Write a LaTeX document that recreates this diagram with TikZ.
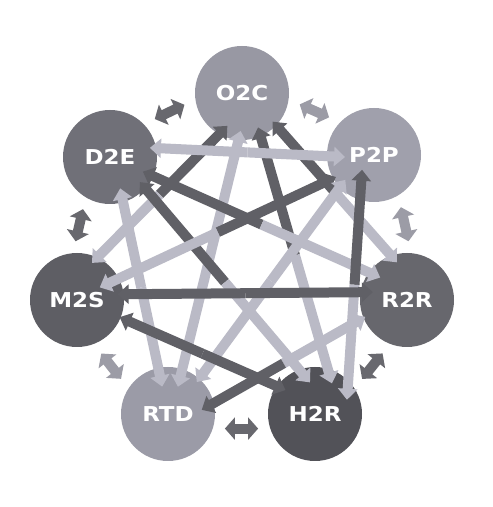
\documentclass[tikz,border=0pt]{standalone}
\usepackage{fontspec}
\newfontfamily\lblfont{DejaVu Sans}[FakeStretch=1.12]
\usetikzlibrary{arrows.meta,calc}

\definecolor{bandlt}{RGB}{186,186,198}
\definecolor{banddk}{RGB}{96,96,102}
\definecolor{twinlt}{RGB}{156,156,166}
\definecolor{twindk}{RGB}{104,104,110}

\tikzset{
  proc/.style={circle,minimum size=94pt,inner sep=0pt,text=white,
    font=\lblfont\bfseries\fontsize{20.5pt}{22pt}\selectfont},
  band/.style={line width=10pt,-{Triangle[width=19pt,length=11pt]}},
  twin/.style={line width=10pt,
    {Triangle[width=22pt,length=10pt]}-{Triangle[width=22pt,length=10pt]},
    shorten <=12pt,shorten >=12pt},
}

% chord: two halves, each coloured after the far node
\newcommand\chord[8]{%
  \path ($(#1)+(#2:#3)$) coordinate (ca) ($(#4)+(#5:#6)$) coordinate (cb);
  \draw[band,#7] ($(ca)!.5!(cb)$) -- (ca);
  \draw[band,#8] ($(ca)!.5!(cb)$) -- (cb);
}

\begin{document}
\begin{tikzpicture}[x=1pt,y=1pt]
    \useasboundingbox (0,0) rectangle (493,507);
    \fill[white] (0,0) rectangle (493,507);

    \node[proc,fill={rgb,255:red,152;green,152;blue,163}] (o2c) at (242,414) {O2C};
    \node[proc,fill={rgb,255:red,112;green,112;blue,120}] (d2e) at (110,350) {D2E};
    \node[proc,fill={rgb,255:red,160;green,160;blue,172}] (p2p) at (374,352) {P2P};
    \node[proc,fill={rgb,255:red,94;green,94;blue,100}] (m2s) at (77,207) {M2S};
    \node[proc,fill={rgb,255:red,103;green,103;blue,109}] (r2r) at (407,207) {R2R};
    \node[proc,fill={rgb,255:red,155;green,155;blue,167}] (rtd) at (168,93) {RTD};
    \node[proc,fill={rgb,255:red,82;green,82;blue,88}] (h2r) at (315,93) {H2R};

    % neighbours
    \draw[twin,twinlt] (p2p.136) -- (o2c.352);
    \draw[twin,twindk] (o2c.188) -- (d2e.44);
    \draw[twin,twindk] (d2e.239) -- (m2s.95);
    \draw[twin,twinlt] (m2s.291) -- (rtd.147);
    \draw[twin,twindk] (rtd.-18) -- (h2r.198);
    \draw[twin,twindk] (h2r.33) -- (r2r.249);
    \draw[twin,twinlt] (r2r.85) -- (p2p.301);

    % chords
    \chord{o2c}{-114}{36}{m2s}{68}{40}{banddk}{bandlt}
    \chord{o2c}{-92}{38}{rtd}{70}{29}{bandlt}{bandlt}
    \chord{o2c}{-65}{38}{h2r}{61}{35}{banddk}{bandlt}
    \chord{o2c}{-43}{42}{r2r}{105}{39}{banddk}{bandlt}
    \chord{d2e}{13}{41}{p2p}{-176}{29}{bandlt}{bandlt}
    \chord{d2e}{-24}{36}{r2r}{140}{35}{banddk}{bandlt}
    \chord{d2e}{-40}{39}{h2r}{99}{32}{banddk}{bandlt}
    \chord{d2e}{-72}{33}{rtd}{102}{28}{bandlt}{bandlt}
    \chord{p2p}{-150}{44}{m2s}{29}{26}{banddk}{bandlt}
    \chord{p2p}{-139}{38}{rtd}{48}{43}{bandlt}{bandlt}
    \chord{p2p}{-129}{19}{h2r}{24}{35}{banddk}{bandlt}
    \chord{r2r}{167}{35}{m2s}{8}{41}{banddk}{banddk}
    \chord{r2r}{-158}{45}{rtd}{7}{34}{bandlt}{banddk}
    \chord{m2s}{-22}{46}{h2r}{141}{38}{banddk}{banddk}
\end{tikzpicture}
\end{document}
